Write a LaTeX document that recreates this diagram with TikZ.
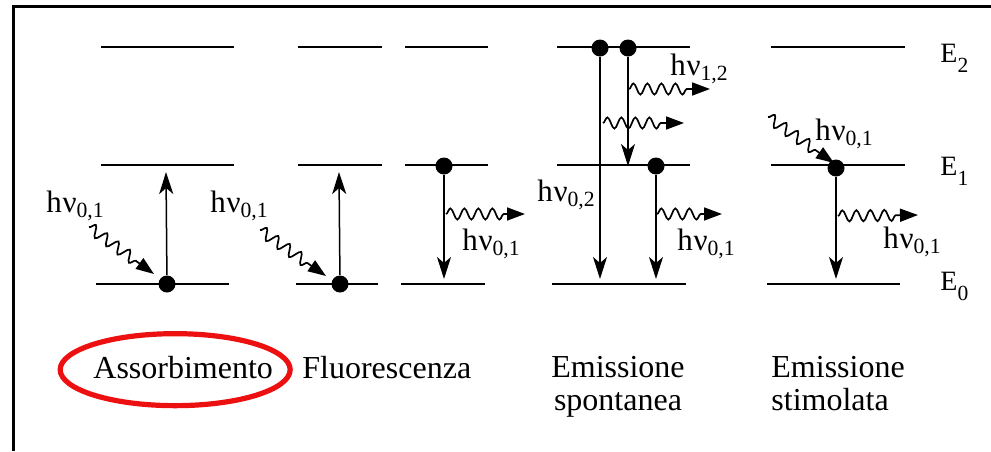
\documentclass[tikz,border=0pt]{standalone}
\usepackage{fontspec}
\setmainfont{Liberation Serif}
\usetikzlibrary{arrows.meta,decorations.pathmorphing}
\definecolor{circled}{RGB}{236,16,16}

\newcommand{\hnusub}[1]{h\kern0.02emν\raisebox{-0.17em}{\scalebox{0.7}{#1}}}
\newcommand{\esub}[1]{E\raisebox{-0.37em}{\scalebox{0.77}{#1}}}

\tikzset{
  level/.style={line width=1pt},
  electron/.style={circle, fill=black, inner sep=0pt, minimum size=8.5pt},
  decay/.style={line width=0.75pt, -{Stealth[length=11pt,width=7pt,inset=3pt]}},
  photon/.style={line width=0.85pt, decorate,
    decoration={snake, amplitude=2.8pt, segment length=7pt, post length=9pt},
    -{Triangle[length=9pt,width=6.5pt]}},
  hnu/.style={anchor=base west, inner sep=0pt, font=\rmfamily\fontsize{15.5}{18}\selectfont},
  energy/.style={anchor=base west, inner sep=0pt, font=\rmfamily\fontsize{14}{16}\selectfont},
  caption/.style={inner sep=0pt, font=\rmfamily\fontsize{16}{16.5}\selectfont},
}

\begin{document}
\begin{tikzpicture}[x=0.5pt, y=-0.5pt]
\useasboundingbox (0,0) rectangle (991,451);
\draw[line width=1.5pt] (13,451) -- (13,6) -- (991,6);

% levels
\foreach \y in {47,165} {
  \draw[level] (101,\y) -- (234,\y);
  \draw[level] (298,\y) -- (382,\y);
  \draw[level] (405,\y) -- (488,\y);
  \draw[level] (557,\y) -- (690,\y);
  \draw[level] (771,\y) -- (905,\y);
}
\draw[level] (96,284) -- (229,284);
\draw[level] (296,284) -- (378,284);
\draw[level] (401,284) -- (485,284);
\draw[level] (552,284) -- (686,284);
\draw[level] (767,284) -- (900,284);

\node[energy] (e2) at (940,62) {\esub{2}};
\node[energy] (e1) at (940,175) {\esub{1}};
\node[energy] (e0) at (940,290) {\esub{0}};

% assorbimento
\node[electron] (abs) at (167,284) {};
\coordinate (absup) at (166,172);
\draw[decay] (abs) -- (absup);
\coordinate (absin) at (89,227);
\draw[photon] (absin) -- (154,274);
\node[hnu] (habs) at (46,212) {\hnusub{0,1}};

% fluorescenza
\node[electron] (fla) at (340,284) {};
\coordinate (flaup) at (339,172);
\draw[decay] (fla) -- (flaup);
\coordinate (flain) at (260,230);
\draw[photon] (flain) -- (326,276);
\node[hnu] (hfla) at (210,212) {\hnusub{0,1}};

\node[electron] (flb) at (444,166) {};
\coordinate (flbdown) at (444,279);
\draw[decay] (flb) -- (flbdown);
\coordinate (flbout) at (446,214);
\draw[photon] (flbout) -- (525,214);
\node[hnu] (hflb) at (462,250) {\hnusub{0,1}};

% emissione spontanea
\node[electron] (spa) at (600,48) {};
\node[electron] (spb) at (628,48) {};
\node[electron] (spc) at (656,166) {};
\coordinate (spadown) at (600,279);
\coordinate (spbdown) at (628,166);
\coordinate (spcdown) at (656,279);
\draw[decay] (spa) -- (spadown);
\draw[decay] (spb) -- (spbdown);
\draw[decay] (spc) -- (spcdown);
\coordinate (spbout) at (629,89);
\draw[photon] (spbout) -- (710,89);
\coordinate (spmid) at (603,123);
\draw[photon] (spmid) -- (684,123);
\coordinate (spcout) at (657,214);
\draw[photon] (spcout) -- (722,214);
\node[hnu] (hspb) at (670,75) {\hnusub{1,2}};
\node[hnu] (hspa) at (537,201) {\hnusub{0,2}};
\node[hnu] (hspc) at (677,250) {\hnusub{0,1}};

% emissione stimolata
\node[electron] (sti) at (836,168) {};
\coordinate (stidown) at (836,279);
\draw[decay] (sti) -- (stidown);
\coordinate (stiin) at (768,117);
\draw[photon] (stiin) -- (834,163);
\coordinate (stiout) at (838,216);
\draw[photon] (stiout) -- (918,215);
\node[hnu] (hstia) at (815,140) {\hnusub{0,1}};
\node[hnu] (hstib) at (883,248) {\hnusub{0,1}};

% captions
\node[caption, anchor=north west] (assorb) at (93,356) {Assorbimento};
\node[caption, anchor=north west] (fluor) at (302,356) {Fluorescenza};
\node[caption, anchor=north, align=center] (spont) at (618,356) {Emissione\\spontanea};
\node[caption, anchor=north west, align=left] (stim) at (771,356) {Emissione\\stimolata};
\draw[circled, line width=2.6pt] ([xshift=-4pt,yshift=-1pt]assorb.center) ellipse [x radius=57.5pt, y radius=18pt];
\end{tikzpicture}
\end{document}
